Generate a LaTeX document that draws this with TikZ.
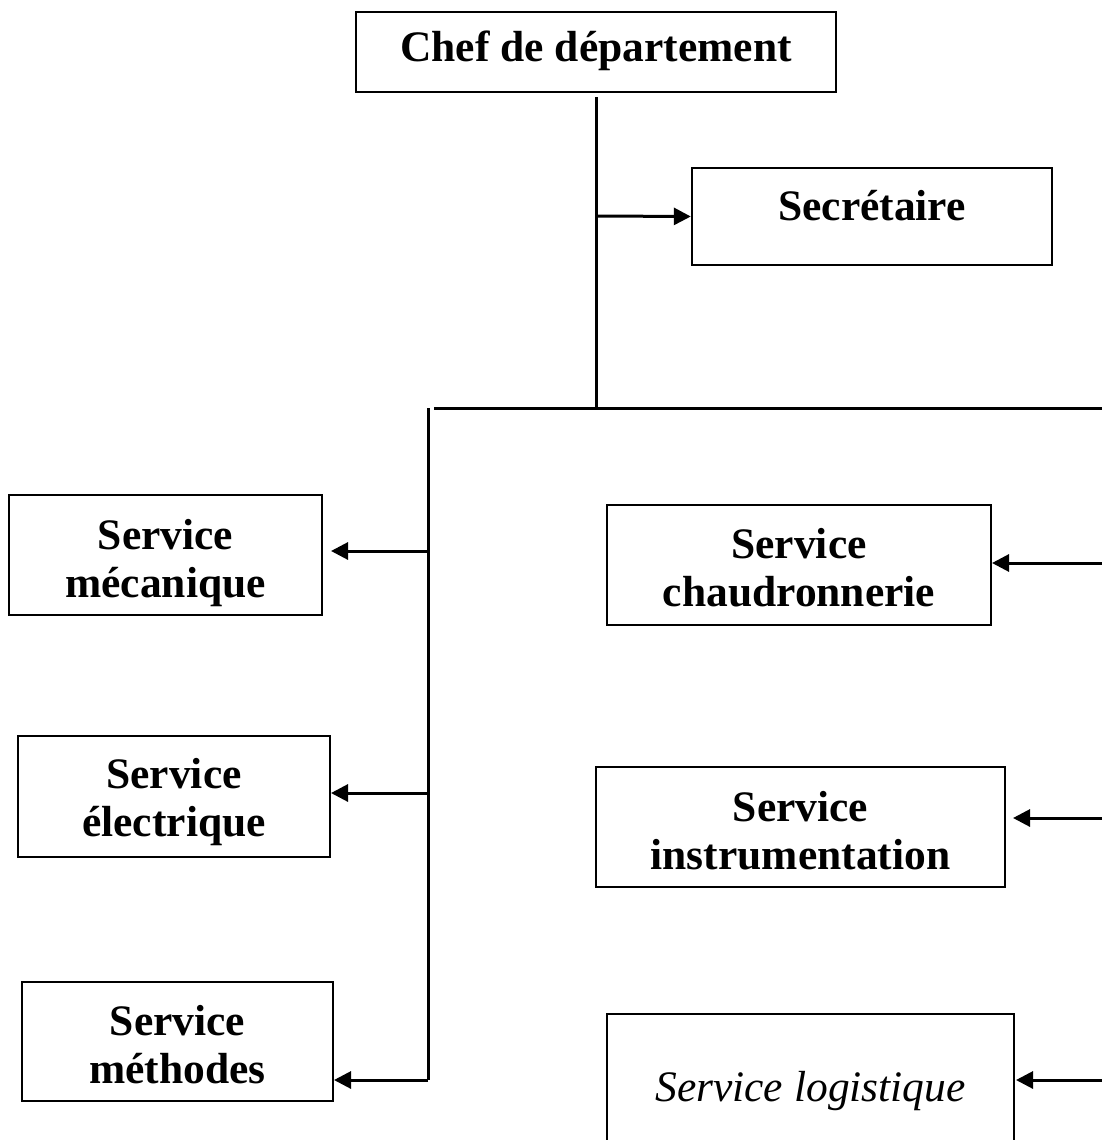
\documentclass[tikz,border=0pt]{standalone}
\usepackage{fontspec}
\setmainfont{Liberation Serif}
\usetikzlibrary{arrows.meta}
\begin{document}
\begin{tikzpicture}[x=1pt,y=-1pt,
  box/.style={draw,line width=2.4pt,rectangle,inner sep=0pt},
  txt/.style={inner sep=0pt,align=center,font=\fontsize{43.5}{48}\selectfont\bfseries},
  itxt/.style={inner sep=0pt,align=center,font=\fontsize{43.5}{48}\selectfont\itshape},
  ln/.style={line width=3pt},
  arr/.style={line width=3pt,-{Triangle[length=17pt,width=17pt]}}]
\useasboundingbox (0,0) rectangle (1102,1140);
\begin{scope}
\clip (0,0) rectangle (1102,1140);
\node[box,minimum width=480pt,minimum height=80pt] (chef) at (596,52) {};
\node[box,minimum width=360pt,minimum height=97pt] (sec) at (872,216.5) {};
\node[box,minimum width=313pt,minimum height=120pt] (meca) at (165.5,555) {};
\node[box,minimum width=312pt,minimum height=121pt] (elec) at (174,796.5) {};
\node[box,minimum width=311pt,minimum height=119pt] (meth) at (177.5,1041.5) {};
\node[box,minimum width=384pt,minimum height=120pt] (chau) at (799,565) {};
\node[box,minimum width=409pt,minimum height=120pt] (inst) at (800.5,827) {};
\node[box,minimum width=407pt,minimum height=134pt] (logi) at (810.5,1081) {};
\end{scope}
\node[txt] (tchef) at (596,51) {Chef de département};
\node[txt] (tsec) at (872,206) {Secrétaire};
\node[txt] (tmeca) at (165.5,563) {Service\\mécanique};
\node[txt] (telec) at (174,802) {Service\\électrique};
\node[txt] (tmeth) at (177.5,1045) {Service\\méthodes};
\node[txt] (tchau) at (799,568) {Service\\chaudronnerie};
\node[txt] (tinst) at (800.5,831) {Service\\instrumentation};
\node[itxt] (tlogi) at (810.5,1091) {Service logistique};
\coordinate (top) at (596,97);
\coordinate (mid) at (596,407);
\coordinate (hl) at (434,408);
\coordinate (hr) at (1102,408);
\coordinate (vt) at (428,408);
\coordinate (vb) at (428,1080);
\draw[ln] (top) -- (mid);
\draw[ln] (hl) -- (hr);
\draw[ln] (vt) -- (vb);
\draw[arr] (596,216) -- (sec.west);
\draw[arr] (428,551) -- (331,551);
\draw[arr] (428,793) -- (331,793);
\draw[arr] (vb) -- (334,1080);
\draw[arr] (1102,563) -- (992,563);
\draw[arr] (1102,818) -- (1013,818);
\draw[arr] (1102,1080) -- (1016,1080);
\end{tikzpicture}
\end{document}
